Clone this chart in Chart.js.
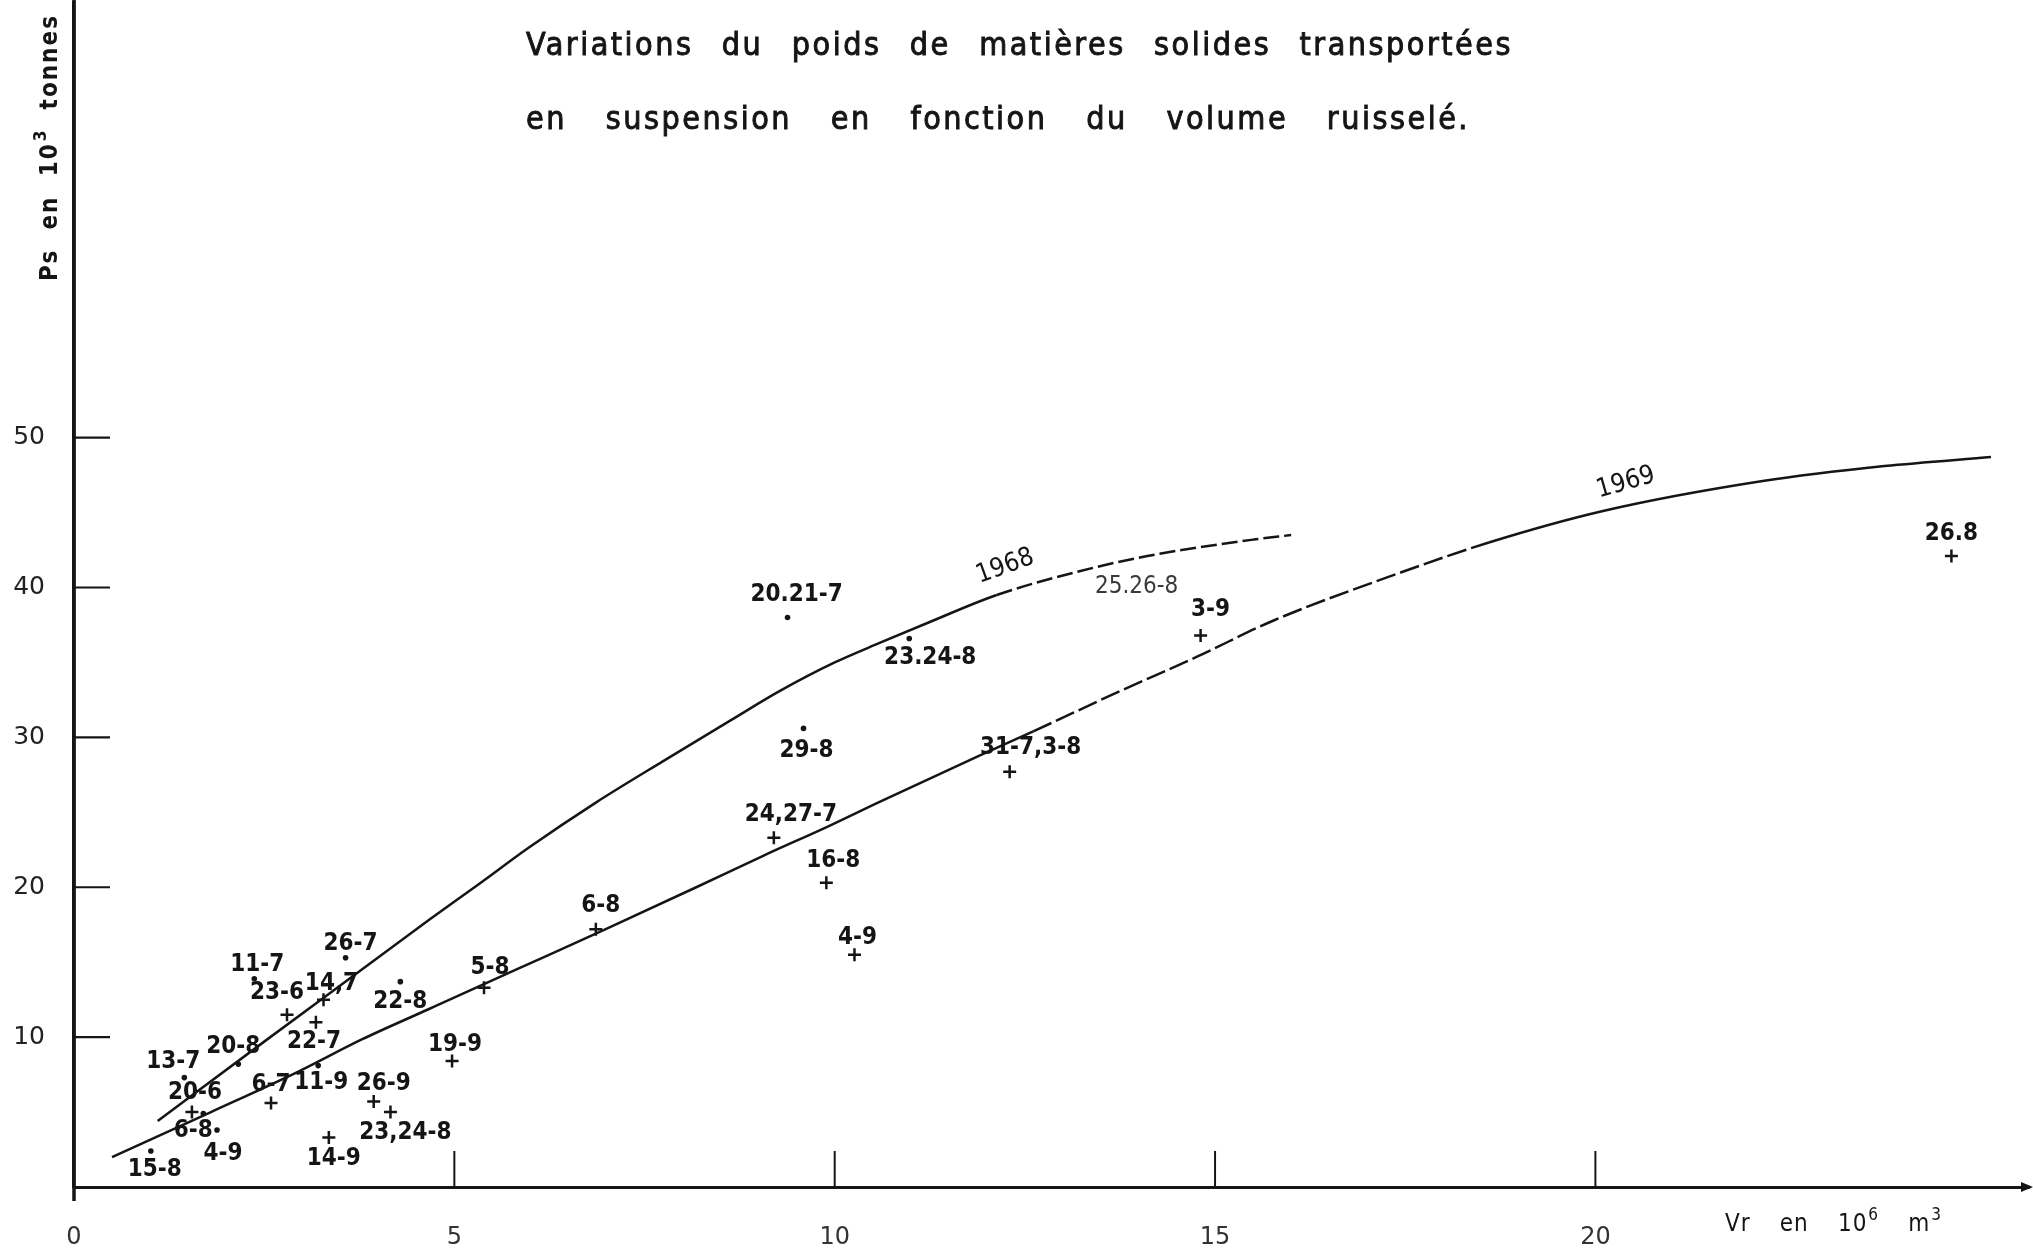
<!DOCTYPE html>
<html>
<head>
<meta charset="utf-8">
<script src="https://cdn.jsdelivr.net/npm/chart.js@4/dist/chart.umd.min.js"></script>
<style>
html,body{margin:0;padding:0;background:#fff;}
#wrap{width:2033px;height:1250px;}
</style>
</head>
<body>
<div id="wrap"><canvas id="c" width="2033" height="1250"></canvas></div>
<script>
// 1968 events (dots)
const dates68 = ['15-8','6-8','4-9','13-7','20-8','11-9','11-7','26-7','22-8','29-8','20.21-7','23.24-8'];
const vr68 = [1.01,1.70,1.88,1.45,2.16,3.21,2.37,3.57,4.29,9.59,9.38,10.98];
const ps68 = [2.4,4.9,3.8,7.3,8.2,8.1,13.9,15.3,13.7,30.6,38.0,36.6];

// 1969 events (crosses)
const dates69 = ['20-6','6-7','14-9','26-9','23,24-8','19-9','23-6','22-7','14,7','5-8','6-8','24,27-7','16-8','4-9','31-7,3-8','3-9','26.8'];
const vr69 = [1.55,2.59,3.35,3.94,4.16,4.97,2.80,3.18,3.28,5.39,6.86,9.20,9.89,10.26,12.30,14.81,24.68];
const ps69 = [5.0,5.6,3.3,5.7,5.0,8.4,11.5,11.0,12.5,13.3,17.2,23.3,20.3,15.5,27.7,36.8,42.1];

// drawn curves
const curve68X = [1.1,2.5,3.7,4.66,5.32,5.98,6.86,7.74,8.62,9.28,10.0,10.59,11.25,12.13,13.23,14.11,15.51,16.0];
const curve68Y = [4.4,9.7,14.2,17.8,20.2,22.65,25.65,28.4,31.1,33.1,35.0,36.3,37.7,39.5,41.1,42.1,43.2,43.5];
const curve69X = [0.5,1.8,2.95,3.79,4.66,5.81,6.99,8.18,9.06,9.93,10.59,11.91,12.61,13.67,14.77,15.77,17.44,18.6,20.1,22.2,23.8,25.2];
const curve69Y = [2.0,5.0,7.7,9.86,11.86,14.5,17.2,20.0,22.1,24.1,25.7,28.8,30.4,32.9,35.4,37.8,41.0,43.0,45.1,47.1,48.1,48.7];
const curveNames = ['1968','1969'];
const curveNameAt = [12.24, 20.4];

// label without a visible mark
const extraLabel = '25.26-8';
const extraVr = 13.97, extraPs = 40.05;

const xTicks = [0,5,10,15,20];
const yTicks = [10,20,30,40,50];

// label offsets in px (same order as the dates)
const offs68 = [[4,19],[-10,17],[6,24],[-11,-16],[-5,-17],[3,17],[3,-14],[5,-14],[0,20],[3,22],[9,-23],[21,19]];
const offs69 = [[3,-19],[0,-18],[5,21],[10,-18],[15,21],[3,-16],[-10,-22],[-2,20],[8,-16],[6,-20],[5,-23],[17,-23],[7,-22],[3,-17],[21,-24],[10,-26],[0,-22]];

const FONT = '"DejaVu Sans Condensed", "DejaVu Sans", sans-serif';
const INK = '#151515';

function pts(xs, ys) { return xs.map((x, i) => ({x: x, y: ys[i]})); }

function interp(xs, ys, x) {
  for (let i = 1; i < xs.length; i++) {
    if (x <= xs[i]) return ys[i-1] + (ys[i]-ys[i-1]) * (x-xs[i-1]) / (xs[i]-xs[i-1]);
  }
  return ys[ys.length-1];
}

// draw words spread over a given length; a word is a list of [text, isSup]
function spreadWords(ctx, words, x, y, len, size, weight, thick) {
  const f = p => (weight || '') + ' ' + (p[1] ? Math.round(size*0.7) : size) + 'px ' + FONT;
  const w = words.map(parts => parts.reduce((s, p) => {
    ctx.font = f(p);
    return s + ctx.measureText(p[0]).width + 1;
  }, 0));
  const total = w.reduce((a, b) => a + b, 0);
  const gap = (len - total) / (words.length - 1);
  let cx = x;
  words.forEach((parts, i) => {
    let px = cx;
    parts.forEach(p => {
      ctx.font = f(p);
      const py = p[1] ? y - size*0.45 : y;
      ctx.fillText(p[0], px, py);
      if (thick) { ctx.lineWidth = thick; ctx.strokeText(p[0], px, py); }
      px += ctx.measureText(p[0]).width + 1;
    });
    cx += w[i] + gap;
  });
}

function plain(str) { return str.split(' ').map(s => [[s, false]]); }

const decor = {
  id: 'decor',
  afterDraw(chart) {
    const ctx = chart.ctx, xs = chart.scales.x, ys = chart.scales.y;
    const x0 = xs.getPixelForValue(0), y0 = ys.getPixelForValue(0);
    ctx.save();
    ctx.strokeStyle = INK;
    ctx.fillStyle = INK;
    const line = (a, b, c, d, w) => { ctx.lineWidth = w; ctx.beginPath(); ctx.moveTo(a, b); ctx.lineTo(c, d); ctx.stroke(); };

    // axis extensions and inner ticks
    line(x0, 0, x0, y0 + 14, 3.5);
    yTicks.forEach(v => { const p = ys.getPixelForValue(v); line(x0, p, x0 + 36, p, 2.2); });
    xTicks.slice(1).forEach(v => { const p = xs.getPixelForValue(v); line(p, y0, p, y0 - 36, 2); });
    // arrow head at the end of the x axis
    const xe = xs.right;
    ctx.beginPath(); ctx.moveTo(xe + 4, y0); ctx.lineTo(xe - 8, y0 - 5); ctx.lineTo(xe - 8, y0 + 5); ctx.closePath(); ctx.fill();

    // event labels
    ctx.font = 'bold 24px ' + FONT;
    ctx.textAlign = 'center';
    ctx.textBaseline = 'middle';
    dates68.forEach((d, i) => {
      ctx.fillText(d, xs.getPixelForValue(vr68[i]) + offs68[i][0], ys.getPixelForValue(ps68[i]) + offs68[i][1]);
    });
    dates69.forEach((d, i) => {
      ctx.fillText(d, xs.getPixelForValue(vr69[i]) + offs69[i][0], ys.getPixelForValue(ps69[i]) + offs69[i][1]);
    });
    ctx.fillStyle = '#3a3a3a';
    ctx.font = '24px ' + FONT;
    ctx.fillText(extraLabel, xs.getPixelForValue(extraVr), ys.getPixelForValue(extraPs));
    ctx.fillStyle = INK;

    // curve names
    const curves = [[curve68X, curve68Y, -20, 26], [curve69X, curve69Y, -16, 24]];
    curveNames.forEach((n, i) => {
      const c = curves[i];
      const px = xs.getPixelForValue(curveNameAt[i]);
      const py = ys.getPixelForValue(interp(c[0], c[1], curveNameAt[i])) - c[3];
      ctx.save();
      ctx.translate(px, py);
      ctx.rotate(c[2] * Math.PI / 180);
      ctx.font = '26px ' + FONT;
      ctx.fillText(n, 0, 0);
      ctx.restore();
    });

    // title
    ctx.textAlign = 'left';
    ctx.textBaseline = 'alphabetic';
    ctx.letterSpacing = '2.5px';
    spreadWords(ctx, plain('Variations du poids de matières solides transportées'), 526, 55, 988, 32, '', 0.9);
    spreadWords(ctx, plain('en suspension en fonction du volume ruisselé.'), 526, 129, 945, 32, '', 0.9);
    ctx.letterSpacing = '1px';

    // x axis title
    spreadWords(ctx, [[['Vr', false]], [['en', false]], [['10', false], ['6', true]], [['m', false], ['3', true]]], 1725, 1231, 218, 24);

    // y axis title (rotated)
    ctx.save();
    ctx.translate(57, 281);
    ctx.rotate(-Math.PI / 2);
    ctx.letterSpacing = '2px';
    spreadWords(ctx, [[['Ps', false]], [['en', false]], [['10', false], ['3', true]], [['tonnes', false]]], 0, 0, 268, 24, 'bold');
    ctx.restore();

    ctx.restore();
  }
};

const dash68 = c => c.p0.parsed.x >= 11.8 ? [16, 5] : undefined;
const dash69 = c => (c.p0.parsed.x >= 12.6 && c.p0.parsed.x < 18.6) ? [20, 5] : undefined;

new Chart(document.getElementById('c'), {
  type: 'scatter',
  data: {
    datasets: [
      {label: '1968', data: pts(curve68X, curve68Y), showLine: true, cubicInterpolationMode: 'monotone',
       borderColor: INK, borderWidth: 2.5, pointRadius: 0, segment: {borderDash: dash68}},
      {label: '1969', data: pts(curve69X, curve69Y), showLine: true, cubicInterpolationMode: 'monotone',
       borderColor: INK, borderWidth: 2.5, pointRadius: 0, segment: {borderDash: dash69}},
      {label: 'crues 1968', data: pts(vr68, ps68), pointStyle: 'circle', pointRadius: 2.8,
       backgroundColor: INK, borderColor: INK, borderWidth: 0},
      {label: 'crues 1969', data: pts(vr69, ps69), pointStyle: 'cross', pointRadius: 6.5,
       borderColor: INK, borderWidth: 2.5}
    ]
  },
  options: {
    responsive: false,
    animation: false,
    layout: {autoPadding: false, padding: {top: 3, right: 4, left: 0, bottom: 0}},
    plugins: {legend: {display: false}, tooltip: {enabled: false}},
    scales: {
      x: {
        type: 'linear', min: 0, max: 25.7,
        afterFit(s) { s.height = 63; s.paddingLeft = 0; s.paddingRight = 0; },
        afterBuildTicks(s) { s.ticks = xTicks.map(v => ({value: v})); },
        grid: {display: false, drawTicks: false},
        border: {display: true, color: INK, width: 3},
        ticks: {font: {family: 'DejaVu Sans', size: 24}, color: '#333', padding: 36, maxRotation: 0}
      },
      y: {
        min: 0, max: 79,
        afterFit(s) { s.width = 74; s.paddingTop = 0; s.paddingBottom = 0; },
        afterBuildTicks(s) { s.ticks = yTicks.map(v => ({value: v})); },
        grid: {display: false, drawTicks: false},
        border: {display: true, color: INK, width: 3.5},
        ticks: {font: {family: 'DejaVu Sans', size: 25}, color: '#222', padding: 29}
      }
    }
  },
  plugins: [decor]
});
</script>
</body>
</html>
